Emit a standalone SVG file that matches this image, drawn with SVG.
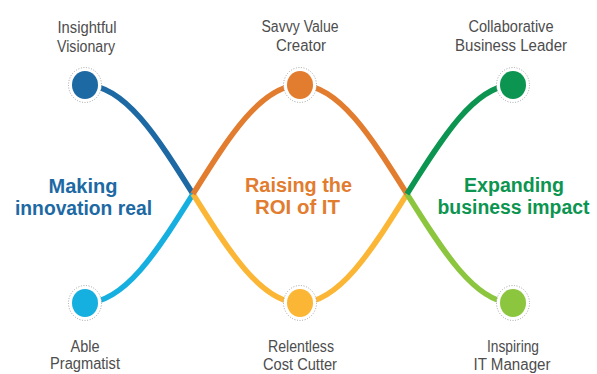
<svg xmlns="http://www.w3.org/2000/svg" width="597" height="374" viewBox="0 0 597 374">
<style>
.wave{fill:none;stroke-width:5.5;stroke-linecap:butt}
.ring{fill:#fff;stroke:#9a9a9a;stroke-width:0.9;stroke-dasharray:1 1.6}
.lbl{font-family:"Liberation Sans",Arial,sans-serif;font-size:16px;fill:#4d4d4d;text-anchor:middle}
.ttl{font-family:"Liberation Sans",Arial,sans-serif;font-size:20px;font-weight:bold;text-anchor:middle}
</style>
<rect width="597" height="374" fill="#fff"/>
<g id="connectors">
<path class="wave" stroke="#1d69a4" d="M85,85 C124.5,85 157.2,136.8 193,194"/>
<path class="wave" stroke="#15afe0" d="M85,303 C124.5,303 157.2,251.2 193,194"/>
<path class="wave" stroke="#fbb635" d="M193,194 C228.8,251.2 261.5,303 300,303 C338.5,303 371.2,251.2 407,194"/>
<path class="wave" stroke="#e27c2f" d="M193,194 C228.8,136.8 261.5,85 300,85 C338.5,85 371.2,136.8 407,194"/>
<path class="wave" stroke="#8cc63f" d="M407,194 C442.8,251.2 475.5,303 513,303"/>
<path class="wave" stroke="#0c9550" d="M407,194 C442.8,136.8 475.5,85 513,85"/>
</g>
<g id="insightful-visionary">
<ellipse class="ring" cx="85" cy="85" rx="16.5" ry="17.5"/>
<ellipse cx="85" cy="85" rx="13" ry="14" fill="#1d69a4"/>
<text class="lbl" x="87" y="33" textLength="59" lengthAdjust="spacingAndGlyphs">Insightful</text>
<text class="lbl" x="86" y="52" textLength="58" lengthAdjust="spacingAndGlyphs">Visionary</text>
</g>
<g id="savvy-value-creator">
<ellipse class="ring" cx="300" cy="85" rx="16.5" ry="17.5"/>
<ellipse cx="300" cy="85" rx="13" ry="14" fill="#e27c2f"/>
<text class="lbl" x="300" y="32" textLength="77" lengthAdjust="spacingAndGlyphs">Savvy Value</text>
<text class="lbl" x="301" y="51" textLength="50" lengthAdjust="spacingAndGlyphs">Creator</text>
</g>
<g id="collaborative-business-leader">
<ellipse class="ring" cx="513" cy="85" rx="16.5" ry="17.5"/>
<ellipse cx="513" cy="85" rx="13" ry="14" fill="#0c9550"/>
<text class="lbl" x="511" y="32" textLength="85" lengthAdjust="spacingAndGlyphs">Collaborative</text>
<text class="lbl" x="511" y="51" textLength="112" lengthAdjust="spacingAndGlyphs">Business Leader</text>
</g>
<g id="able-pragmatist">
<ellipse class="ring" cx="85" cy="303" rx="16.5" ry="17.5"/>
<ellipse cx="85" cy="303" rx="13" ry="14" fill="#15afe0"/>
<text class="lbl" x="85" y="352" textLength="29" lengthAdjust="spacingAndGlyphs">Able</text>
<text class="lbl" x="85" y="369" textLength="70" lengthAdjust="spacingAndGlyphs">Pragmatist</text>
</g>
<g id="relentless-cost-cutter">
<ellipse class="ring" cx="300" cy="303" rx="16.5" ry="17.5"/>
<ellipse cx="300" cy="303" rx="13" ry="14" fill="#fbb635"/>
<text class="lbl" x="301" y="352" textLength="66" lengthAdjust="spacingAndGlyphs">Relentless</text>
<text class="lbl" x="300" y="370" textLength="74" lengthAdjust="spacingAndGlyphs">Cost Cutter</text>
</g>
<g id="inspiring-it-manager">
<ellipse class="ring" cx="513" cy="303" rx="16.5" ry="17.5"/>
<ellipse cx="513" cy="303" rx="13" ry="14" fill="#8cc63f"/>
<text class="lbl" x="513" y="352" textLength="52" lengthAdjust="spacingAndGlyphs">Inspiring</text>
<text class="lbl" x="512" y="370" textLength="77" lengthAdjust="spacingAndGlyphs">IT Manager</text>
</g>
<g id="making-innovation-real">
<text class="ttl" fill="#1d69a4" x="83" y="193" textLength="69" lengthAdjust="spacingAndGlyphs">Making</text>
<text class="ttl" fill="#1d69a4" x="83.5" y="215" textLength="137" lengthAdjust="spacingAndGlyphs">innovation real</text>
</g>
<g id="raising-the-roi-of-it">
<text class="ttl" fill="#e27c2f" x="298.5" y="192" textLength="107" lengthAdjust="spacingAndGlyphs">Raising the</text>
<text class="ttl" fill="#e27c2f" x="297.5" y="214" textLength="85" lengthAdjust="spacingAndGlyphs">ROI of IT</text>
</g>
<g id="expanding-business-impact">
<text class="ttl" fill="#0c9550" x="514" y="192" textLength="100" lengthAdjust="spacingAndGlyphs">Expanding</text>
<text class="ttl" fill="#0c9550" x="513.5" y="214" textLength="152" lengthAdjust="spacingAndGlyphs">business impact</text>
</g>
</svg>
